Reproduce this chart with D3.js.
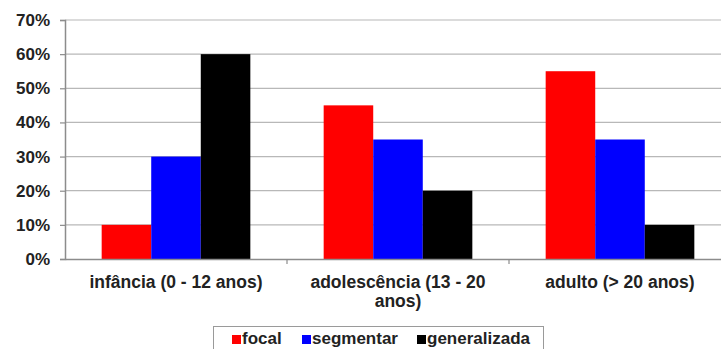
<!DOCTYPE html>
<html>
<head>
<meta charset="utf-8">
<script src="https://cdn.jsdelivr.net/npm/d3@7"></script>
<style>
  html, body { margin: 0; padding: 0; background: #fff; }
  svg { display: block; font-family: "Liberation Sans", Arial, sans-serif; }
</style>
</head>
<body>
<svg id="chart" width="721" height="349"></svg>
<script>
// Age groups and the share of each seizure type within them
const categories = [["infância (0 - 12 anos)"], ["adolescência (13 - 20", "anos)"], ["adulto (> 20 anos)"]];
const seriesNames = ["focal", "segmentar", "generalizada"];
const focal = [10, 45, 55];
const segmentar = [30, 35, 35];
const generalizada = [60, 20, 10];
const yTicks = [0, 10, 20, 30, 40, 50, 60, 70];
const colors = ["#ff0000", "#0000ff", "#000000"];

const values = [focal, segmentar, generalizada];
const svg = d3.select("#chart");

const plotLeft = 65, plotTop = 20, plotBottom = 259, plotRight = 731;

const x0 = d3.scaleBand().domain(d3.range(categories.length)).range([plotLeft, plotRight]).paddingInner(0).paddingOuter(0);
const x1 = d3.scaleBand().domain(d3.range(seriesNames.length))
  .range([0, x0.bandwidth()]).paddingInner(0).paddingOuter(0.74);
const y = d3.scaleLinear().domain([0, 70]).range([plotBottom, plotTop]);

// horizontal gridlines
svg.append("g").selectAll("line").data(yTicks.filter(t => t > 0)).join("line")
  .attr("x1", plotLeft).attr("x2", plotRight)
  .attr("y1", d => y(d)).attr("y2", d => y(d))
  .attr("stroke", "#b8b8b8").attr("stroke-width", 1.2);

// bars
const groups = svg.append("g").selectAll("g").data(categories).join("g")
  .attr("transform", (d, i) => `translate(${x0(i)},0)`);
groups.selectAll("rect").data((d, i) => values.map((s, j) => ({ j, v: s[i] }))).join("rect")
  .attr("x", d => x1(d.j)).attr("width", x1.bandwidth())
  .attr("y", d => y(d.v)).attr("height", d => y(0) - y(d.v))
  .attr("fill", d => colors[d.j]);

// y axis
const yAxis = d3.axisLeft(y).tickValues(yTicks).tickFormat(d => d + "%").tickSize(5).tickPadding(10);
const ya = svg.append("g").attr("transform", `translate(${plotLeft},0)`).call(yAxis);
ya.select(".domain").attr("stroke", "#8c8c8c").attr("stroke-width", 1.5);
ya.selectAll(".tick line").attr("stroke", "#8c8c8c").attr("stroke-width", 1.2);
ya.selectAll(".tick text").attr("font-size", 17).attr("font-weight", "bold").attr("fill", "#222")
  .attr("font-family", "'Liberation Sans', Arial, sans-serif");

// x axis baseline with category dividers
const xa = svg.append("g").attr("transform", `translate(0,${plotBottom})`)
  .call(d3.axisBottom(x0).tickValues([]).tickSizeOuter(0));
xa.select(".domain").attr("stroke", "#8c8c8c").attr("stroke-width", 1.5);
svg.append("g").selectAll("line").data(d3.range(1, categories.length)).join("line")
  .attr("x1", i => x0(i)).attr("x2", i => x0(i))
  .attr("y1", plotBottom).attr("y2", plotBottom + 5)
  .attr("stroke", "#8c8c8c").attr("stroke-width", 1.2);

// category labels
const lab = svg.append("g").selectAll("text").data(categories).join("text")
  .attr("x", (d, i) => x0(i) + x0.bandwidth() / 2)
  .attr("y", 288)
  .attr("text-anchor", "middle")
  .attr("font-size", 17.5).attr("font-weight", "bold").attr("fill", "#222");
lab.selectAll("tspan").data(d => d).join("tspan")
  .attr("x", function () { return this.parentNode.getAttribute("x"); })
  .attr("dy", (d, k) => k === 0 ? 0 : 19)
  .text(d => d);

// legend
const legend = svg.append("g");
legend.append("rect").attr("x", 213.5).attr("y", 326.5).attr("width", 330).attr("height", 30)
  .attr("fill", "#fff").attr("stroke", "#9a9a9a").attr("stroke-width", 1);
const itemX = [232, 302, 417];
seriesNames.forEach((name, j) => {
  legend.append("rect").attr("x", itemX[j]).attr("y", 335).attr("width", 9).attr("height", 9).attr("fill", colors[j]);
  legend.append("text").attr("x", itemX[j] + 10).attr("y", 344)
    .attr("font-size", 17).attr("font-weight", "bold").attr("fill", "#222").text(name);
});
</script>
</body>
</html>
